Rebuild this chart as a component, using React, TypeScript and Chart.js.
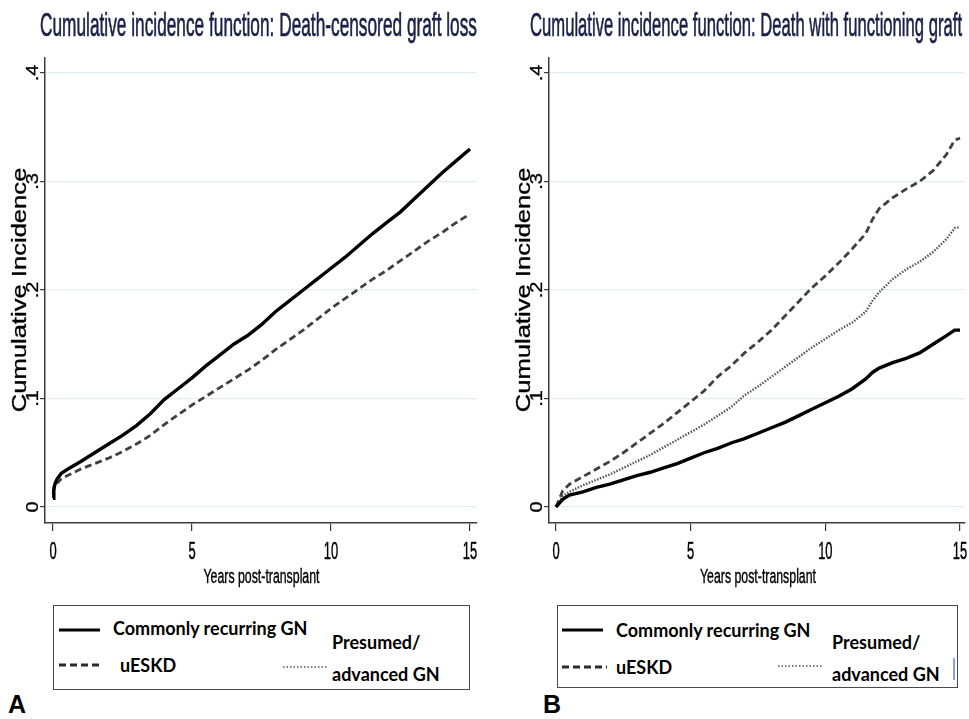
import React, { useEffect, useRef } from "react";
import { Chart, registerables } from "chart.js";

Chart.register(...registerables);

// ---------- data ----------
const yTicks = [0, 0.1, 0.2, 0.3, 0.4];
const yTickLabels = ["0", ".1", ".2", ".3", ".4"];
const xTicks = [0, 5, 10, 15];
const xTickLabels = ["0", "5", "10", "15"];

const seriesNames = ["Commonly recurring GN", "uESKD", "Presumed/advanced GN"];

const leftTitle = "Cumulative incidence function: Death-censored graft loss";
const rightTitle = "Cumulative incidence function: Death with functioning graft";
const yTitle = "Cumulative Incidence";
const xTitle = "Years post-transplant";

const leftYears = [0, 0.03, 0.08, 0.15, 0.3, 0.6, 1, 1.5, 2, 2.5, 3, 3.5, 4, 4.5, 5, 5.5, 6, 6.5, 7, 7.5, 8, 8.5, 9, 9.5, 10, 10.5, 11, 11.5, 12, 12.5, 13, 13.5, 14, 14.5, 15];
const leftRecurring = [0.008, 0.017, 0.022, 0.026, 0.031, 0.036, 0.042, 0.05, 0.058, 0.066, 0.075, 0.086, 0.099, 0.109, 0.119, 0.13, 0.14, 0.15, 0.158, 0.168, 0.18, 0.19, 0.2, 0.21, 0.22, 0.23, 0.241, 0.252, 0.262, 0.272, 0.284, 0.296, 0.308, 0.319, 0.33];
const leftUeskd = [0.012, 0.016, 0.019, 0.022, 0.026, 0.03, 0.035, 0.04, 0.045, 0.051, 0.058, 0.066, 0.076, 0.085, 0.094, 0.102, 0.11, 0.118, 0.126, 0.135, 0.145, 0.154, 0.163, 0.173, 0.183, 0.192, 0.201, 0.21, 0.218, 0.227, 0.236, 0.245, 0.253, 0.262, 0.27];

const rightYears = [0, 0.25, 0.5, 1, 1.5, 2, 2.5, 3, 3.5, 4, 4.5, 5, 5.5, 6, 6.5, 7, 7.5, 8, 8.5, 9, 9.5, 10, 10.5, 11, 11.5, 11.75, 12, 12.5, 13, 13.5, 14, 14.5, 14.8, 15];
const rightRecurring = [0, 0.007, 0.011, 0.014, 0.018, 0.021, 0.025, 0.029, 0.032, 0.036, 0.04, 0.045, 0.05, 0.054, 0.059, 0.063, 0.068, 0.073, 0.078, 0.084, 0.09, 0.096, 0.102, 0.109, 0.118, 0.124, 0.128, 0.133, 0.137, 0.142, 0.15, 0.158, 0.163, 0.163];
const rightUeskd = [0, 0.015, 0.021, 0.028, 0.035, 0.042, 0.05, 0.059, 0.068, 0.077, 0.087, 0.097, 0.107, 0.12, 0.13, 0.142, 0.152, 0.163, 0.176, 0.189, 0.202, 0.213, 0.225, 0.238, 0.252, 0.265, 0.275, 0.285, 0.293, 0.3, 0.31, 0.325, 0.338, 0.34];
const rightPresumed = [0, 0.01, 0.014, 0.02, 0.025, 0.03, 0.036, 0.042, 0.048, 0.055, 0.062, 0.069, 0.076, 0.084, 0.092, 0.103, 0.111, 0.12, 0.129, 0.138, 0.147, 0.155, 0.163, 0.17, 0.18, 0.19, 0.198, 0.21, 0.219, 0.226, 0.235, 0.247, 0.257, 0.258];

// ---------- styles ----------
const FONT = '"Liberation Sans", Arial, sans-serif';
const STYLES = [
  { color: "#000000", width: 3.4, dash: [] as number[] },
  { color: "#404040", width: 2.8, dash: [7, 4] },
  { color: "#555555", width: 2.4, dash: [1.5, 1.5] },
];

function drawFit(ctx: CanvasRenderingContext2D, text: string, x: number, y: number, size: number, w: number, color: string, stroke: number) {
  ctx.save();
  ctx.font = `${size}px ${FONT}`;
  const m = ctx.measureText(text).width;
  ctx.translate(x, y);
  ctx.scale(w / m, 1);
  ctx.fillStyle = color;
  ctx.strokeStyle = color;
  ctx.lineWidth = stroke;
  ctx.textAlign = "left";
  ctx.textBaseline = "alphabetic";
  ctx.fillText(text, 0, 0);
  if (stroke > 0) ctx.strokeText(text, 0, 0);
  ctx.restore();
}

function drawSx(ctx: CanvasRenderingContext2D, text: string, x: number, y: number, size: number, sx: number, color: string, rot: boolean, stroke: number) {
  ctx.save();
  ctx.font = `${size}px ${FONT}`;
  ctx.translate(x, y);
  ctx.scale(sx, 1);
  if (rot) ctx.rotate(-Math.PI / 2);
  ctx.fillStyle = color;
  ctx.strokeStyle = color;
  ctx.lineWidth = stroke;
  ctx.textAlign = "center";
  ctx.textBaseline = "alphabetic";
  ctx.fillText(text, 0, 0);
  if (stroke > 0) ctx.strokeText(text, 0, 0);
  ctx.restore();
}

type Spec = {
  years: number[];
  series: number[][];
  title: string;
  titleX: number;
  titleW: number;
  xMin: number;
  xMax: number;
  yAxisWidth: number;
  padRight: number;
  width: number;
};

function makeChart(canvas: HTMLCanvasElement, spec: Spec) {
  const yMin = -0.01475;
  const yMax = 0.4138;
  const plugin = {
    id: "stataText",
    afterDraw(chart: any) {
      const ctx = chart.ctx as CanvasRenderingContext2D;
      const xs = chart.scales.x;
      const ys = chart.scales.y;
      const area = chart.chartArea;
      drawFit(ctx, spec.title, spec.titleX, 36, 34, spec.titleW, "#1a2046", 0.7);
      yTicks.forEach((v, i) => {
        drawSx(ctx, yTickLabels[i], area.left - 7, ys.getPixelForValue(v), 20, 0.82, "#000", true, 0.4);
      });
      const yMid = (ys.getPixelForValue(yTicks[0]) + ys.getPixelForValue(yTicks[yTicks.length - 1])) / 2;
      drawSx(ctx, yTitle, area.left - 19, yMid, 25.6, 0.8, "#000", true, 0.4);
      xTicks.forEach((v, i) => {
        drawSx(ctx, xTickLabels[i], xs.getPixelForValue(v), 559, 23.5, 0.55, "#000", false, 0.5);
      });
      const xMid = (xs.getPixelForValue(xTicks[0]) + xs.getPixelForValue(xTicks[xTicks.length - 1])) / 2;
      drawFit(ctx, xTitle, xMid - 58, 583, 19.5, 116, "#000", 0.4);
    },
  };

  return new Chart(canvas, {
    type: "line",
    data: {
      datasets: spec.series.map((vals, i) => ({
        label: seriesNames[i],
        data: spec.years.map((t, j) => ({ x: t, y: vals[j] })),
        borderColor: STYLES[i].color,
        borderWidth: STYLES[i].width,
        borderDash: STYLES[i].dash,
        pointRadius: 0,
        tension: 0,
        fill: false,
      })),
    },
    options: {
      animation: false,
      responsive: false,
      maintainAspectRatio: false,
      layout: { padding: { left: 0, top: 58, right: spec.padRight, bottom: 0 } },
      plugins: { legend: { display: false }, tooltip: { enabled: false }, title: { display: false } },
      scales: {
        x: {
          type: "linear",
          min: spec.xMin,
          max: spec.xMax,
          afterBuildTicks: (s: any) => {
            s.ticks = xTicks.map((v) => ({ value: v }));
          },
          afterFit: (s: any) => {
            s.height = 77;
          },
          ticks: { display: false },
          grid: { drawOnChartArea: false, drawTicks: true, tickLength: 8, color: "#3c3c3c", lineWidth: 1.2 },
          border: { display: true, color: "#3c3c3c", width: 1.5 },
        },
        y: {
          type: "linear",
          min: yMin,
          max: yMax,
          afterBuildTicks: (s: any) => {
            s.ticks = yTicks.map((v) => ({ value: v }));
          },
          afterFit: (s: any) => {
            s.width = spec.yAxisWidth;
          },
          ticks: { display: false },
          grid: { drawOnChartArea: true, drawTicks: true, tickLength: 5, color: "#e1edf1", tickColor: "#3c3c3c", lineWidth: 1.2 },
          border: { display: true, color: "#3c3c3c", width: 1.5 },
        },
      },
    },
    plugins: [plugin],
  } as any);
}

function Panel(props: { spec: Spec; left: number }) {
  const ref = useRef<HTMLCanvasElement | null>(null);
  useEffect(() => {
    if (!ref.current) return;
    const c = makeChart(ref.current, props.spec);
    return () => c.destroy();
  }, []);
  return (
    <canvas
      ref={ref}
      width={props.spec.width}
      height={600}
      style={{ position: "absolute", left: props.left, top: 0, width: props.spec.width, height: 600 }}
    />
  );
}

function LegendLine(props: { x1: number; x2: number; y: number; style: number }) {
  const w = props.x2 - props.x1;
  const stroke = props.style === 2 ? "#555555" : props.style === 1 ? "#2a2a2a" : "#000";
  const sw = props.style === 2 ? 1.6 : 3;
  const dash = props.style === 2 ? "1.5 2" : props.style === 1 ? "7 4" : undefined;
  return (
    <svg style={{ position: "absolute", left: props.x1, top: props.y - 3, overflow: "visible" }} width={w} height={6}>
      <line x1={0} y1={3} x2={w} y2={3} stroke={stroke} strokeWidth={sw} strokeDasharray={dash} />
    </svg>
  );
}

const textStyle = (left: number, cy: number): React.CSSProperties => ({
  position: "absolute",
  left,
  top: cy - 11,
  fontFamily: "Lato, 'Open Sans', sans-serif",
  fontWeight: 700,
  fontSize: 18,
  lineHeight: "21px",
  whiteSpace: "nowrap",
  color: "#000",
});

function LegendBox(props: { box: [number, number, number, number]; lines: { x1: number; x2: number; y: number }[]; texts: { x: number; cy: number }[]; bar?: boolean }) {
  const [bx, by, bw, bh] = props.box;
  const t = props.texts;
  return (
    <>
      <div style={{ position: "absolute", left: bx, top: by, width: bw, height: bh, border: "1.5px solid #4a4a4a", boxSizing: "border-box" }} />
      {props.lines.map((l, i) => (
        <LegendLine key={i} x1={l.x1} x2={l.x2} y={l.y} style={i} />
      ))}
      <div style={textStyle(t[0].x, t[0].cy)}>{seriesNames[0]}</div>
      <div style={textStyle(t[1].x, t[1].cy)}>{seriesNames[1]}</div>
      <div style={textStyle(t[2].x, t[2].cy)}>Presumed/</div>
      <div style={textStyle(t[3].x, t[3].cy)}>advanced GN</div>
      {props.bar ? <div style={{ position: "absolute", left: 953, top: 658, width: 1.5, height: 22, background: "#8aa6d6" }} /> : null}
    </>
  );
}

const panelLetter = (left: number): React.CSSProperties => ({
  position: "absolute",
  left,
  top: 692,
  fontFamily: FONT,
  fontWeight: 700,
  fontSize: 25,
  lineHeight: "25px",
  color: "#000",
});

export default function App() {
  const leftSpec: Spec = {
    years: leftYears,
    series: [leftRecurring, leftUeskd],
    title: leftTitle,
    titleX: 40,
    titleW: 437,
    xMin: -0.288,
    xMax: 15.252,
    yAxisWidth: 45,
    padRight: 13,
    width: 490,
  };
  const rightSpec: Spec = {
    years: rightYears,
    series: [rightRecurring, rightUeskd, rightPresumed],
    title: rightTitle,
    titleX: 40,
    titleW: 432,
    xMin: -0.26,
    xMax: 15.186,
    yAxisWidth: 59,
    padRight: 4,
    width: 479,
  };
  return (
    <div style={{ position: "absolute", left: 0, top: 0, width: 969, height: 719, background: "#fff", overflow: "hidden" }}>
      <Panel spec={leftSpec} left={0} />
      <Panel spec={rightSpec} left={490} />
      <LegendBox
        box={[53, 605, 417, 85]}
        lines={[
          { x1: 59, x2: 100, y: 630 },
          { x1: 59, x2: 103, y: 665 },
          { x1: 283, x2: 328, y: 667 },
        ]}
        texts={[
          { x: 113, cy: 629 },
          { x: 120, cy: 666 },
          { x: 332, cy: 643 },
          { x: 332, cy: 675 },
        ]}
      />
      <LegendBox
        box={[557, 605, 401, 83]}
        lines={[
          { x1: 562, x2: 603, y: 630 },
          { x1: 562, x2: 607, y: 667 },
          { x1: 778, x2: 822, y: 666 },
        ]}
        texts={[
          { x: 616, cy: 631 },
          { x: 616, cy: 668 },
          { x: 832, cy: 643 },
          { x: 832, cy: 675 },
        ]}
        bar
      />
      <div style={panelLetter(8)}>A</div>
      <div style={panelLetter(543)}>B</div>
    </div>
  );
}
